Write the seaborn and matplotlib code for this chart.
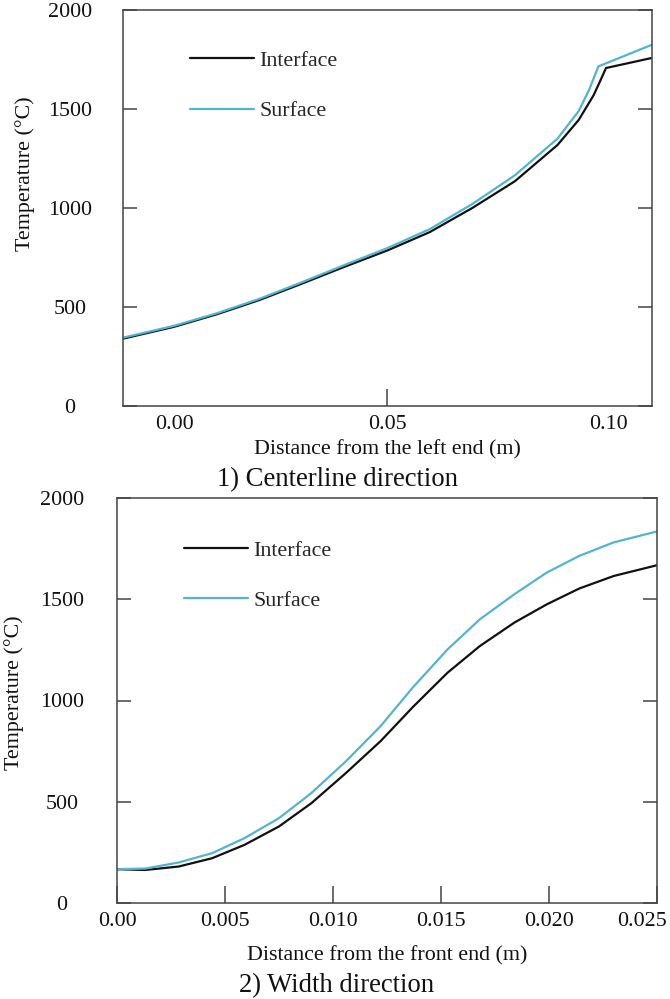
import numpy as np
import pandas as pd
import matplotlib
matplotlib.use("Agg")
import matplotlib.pyplot as plt
from matplotlib.transforms import ScaledTranslation
import seaborn as sns

# ---------------- data ----------------
# Panel 1: centerline direction
cl_interface_x = [-0.012, 0.0, 0.01, 0.02, 0.03, 0.04, 0.05, 0.06, 0.07, 0.08, 0.09, 0.095, 0.0985, 0.1, 0.1014, 0.112]
cl_interface_t = [340, 400, 463, 535, 618, 703, 785, 878, 1000, 1135, 1318, 1445, 1570, 1640, 1707, 1757]
cl_surface_x = [-0.012, 0.0, 0.01, 0.02, 0.03, 0.04, 0.05, 0.06, 0.07, 0.08, 0.09, 0.095, 0.0975, 0.0996, 0.112]
cl_surface_t = [345, 405, 468, 541, 625, 712, 797, 893, 1020, 1165, 1350, 1490, 1600, 1715, 1823]

# Panel 2: width direction
wd_x = [0.0, 0.0013, 0.00285, 0.0044, 0.0059, 0.0075, 0.009, 0.0106, 0.0122, 0.0137,
        0.0153, 0.0168, 0.0184, 0.0199, 0.0214, 0.023, 0.025]
wd_interface_t = [167, 163, 180, 221, 287, 378, 493, 642, 799, 968, 1137, 1269, 1385, 1475, 1553, 1615, 1668]
wd_surface_t = [167, 170, 200, 246, 320, 419, 543, 700, 873, 1065, 1252, 1401, 1525, 1632, 1714, 1781, 1835]

series_names = ["Interface", "Surface"]
y_ticks = [0, 500, 1000, 1500, 2000]
y_tick_labels = ["0", "500", "1000", "1500", "2000"]
cl_x_ticks = [0.0, 0.05, 0.10]
cl_x_tick_labels = ["0.00", "0.05", "0.10"]
wd_x_ticks = [0.0, 0.005, 0.010, 0.015, 0.020, 0.025]
wd_x_tick_labels = ["0.00", "0.005", "0.010", "0.015", "0.020", "0.025"]

# ---------------- style ----------------
sns.set_theme(style="white")
plt.rcParams["font.family"] = ["Liberation Serif", "DejaVu Serif"]

palette = {"Interface": "#111111", "Surface": "#52B5CF"}
spine_color = "#444444"
FS = 15.8

df_cl = pd.concat([
    pd.DataFrame({"x": cl_interface_x, "T": cl_interface_t, "series": "Interface"}),
    pd.DataFrame({"x": cl_surface_x, "T": cl_surface_t, "series": "Surface"}),
])
df_wd = pd.concat([
    pd.DataFrame({"x": wd_x, "T": wd_interface_t, "series": "Interface"}),
    pd.DataFrame({"x": wd_x, "T": wd_surface_t, "series": "Surface"}),
])

fig = plt.figure(figsize=(6.70, 9.99), dpi=100)
W, H = 670, 999
ax1 = fig.add_axes([123 / W, 1 - 406 / H, 529 / W, 396 / H])
ax2 = fig.add_axes([117 / W, 1 - 903 / H, 540 / W, 405 / H])


def style_axes(ax, df, xlim, xticks, xlabels, xlabel, ypad, ylab_xy, xlab_y, leg_anchor,
               hide_x_idx, last_shift_px):
    sns.lineplot(data=df, x="x", y="T", hue="series", hue_order=series_names,
                 palette=palette, linewidth=1.6, sort=False, estimator=None, ax=ax)
    ax.set_xlim(*xlim)
    ax.set_ylim(0, 2000)
    ax.set_yticks(y_ticks, labels=y_tick_labels, ha="center")
    ax.set_xticks(xticks, labels=xlabels)
    for s in ax.spines.values():
        s.set_visible(True)
        s.set_color(spine_color)
        s.set_linewidth(1.1)
    ax.tick_params(axis="y", direction="in", left=True, right=True, length=10,
                   width=1.1, color=spine_color, pad=ypad, labelsize=FS, labelcolor="#111111")
    ax.tick_params(axis="x", direction="in", bottom=True, top=False, length=12.5,
                   width=1.1, color=spine_color, pad=6.5, labelsize=FS, labelcolor="#111111")
    for i, t in enumerate(ax.xaxis.get_major_ticks()):
        if i in hide_x_idx:
            t.tick1line.set_visible(False)
    lbl = ax.get_xticklabels()[-1]
    lbl.set_transform(lbl.get_transform() + ScaledTranslation(last_shift_px / 100, 0, fig.dpi_scale_trans))
    ax.set_ylabel("Temperature (°C)", fontsize=FS, color="#111111")
    ax.set_xlabel(xlabel, fontsize=FS, color="#111111")
    ax.yaxis.set_label_coords(*ylab_xy)
    ax.xaxis.set_label_coords(0.5, xlab_y)
    handles, labels = ax.get_legend_handles_labels()
    ax.legend(handles, labels, loc="upper left", bbox_to_anchor=leg_anchor,
              frameon=False, handlelength=2.9, handletextpad=0.25, labelspacing=1.36,
              borderpad=0, borderaxespad=0, fontsize=FS)


style_axes(ax1, df_cl, (-0.012, 0.1122), cl_x_ticks, cl_x_tick_labels,
           "Distance from the left end (m)", 38.2, (-0.166, 0.586), -0.086,
           (0.127, 0.897), [0, 2], 8)
style_axes(ax2, df_wd, (0.0, 0.025), wd_x_ticks, wd_x_tick_labels,
           "Distance from the front end (m)", 39.6, (-0.172, 0.52), -0.106,
           (0.124, 0.895), [], -15)

fig.text(0.503, 1 - 480 / H, "1) Centerline direction", ha="center", va="center",
         fontsize=19.2, color="#111111")
fig.text(0.503, 1 - 986 / H, "2) Width direction", ha="center", va="center",
         fontsize=19.2, color="#111111")

fig.savefig("out.png", dpi=100)
